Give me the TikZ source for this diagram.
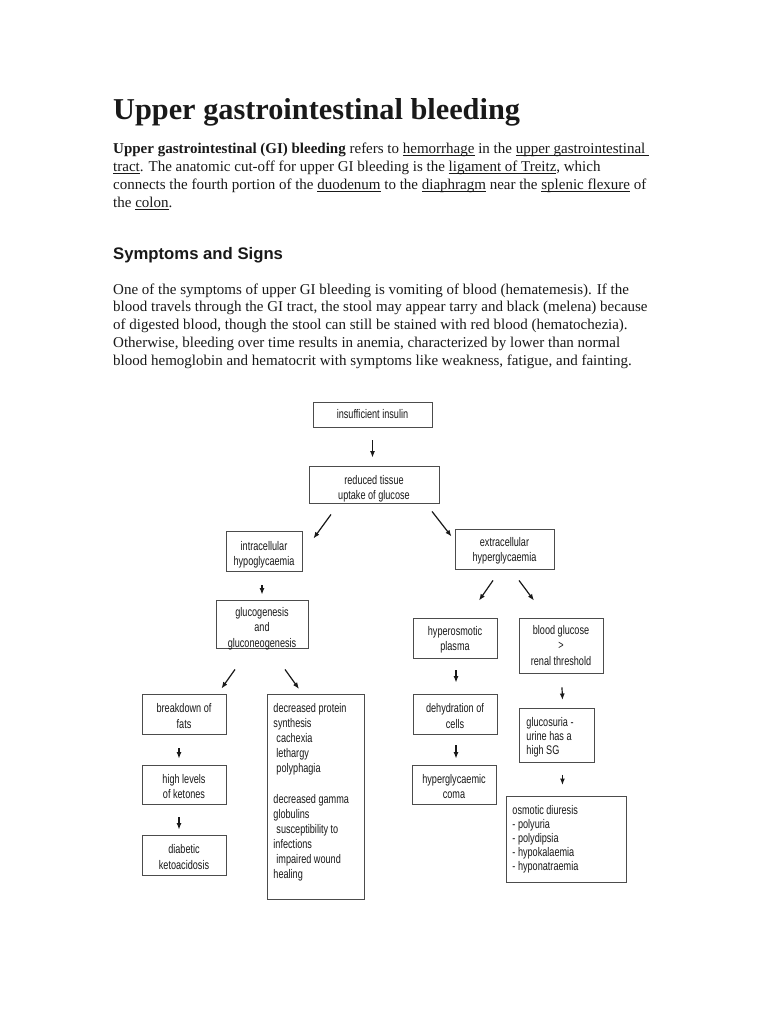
\documentclass[tikz,border=0pt]{standalone}
\usepackage{fontspec}
\setmainfont{Liberation Serif}
\setsansfont{Liberation Sans}
\newfontfamily\dfont{Liberation Sans}[FakeStretch=0.73]
\usetikzlibrary{calc,arrows.meta}
\newcommand\ulink[1]{\underline{\smash{#1}}}
\begin{document}
\begin{tikzpicture}[x=1pt,y=-1pt,
  txt/.style={anchor=base west, inner sep=0, font=\fontsize{15}{18}\selectfont, text=black!90},
  box/.style={draw=black!70, line width=0.9pt, inner sep=0, align=center,
    font=\dfont\fontsize{12.5}{15.5}\selectfont, text=black!90},
  two/.style={text height=28.5},
  lbox/.style={draw=black!70, line width=0.9pt, inner sep=0, anchor=north west,
    font=\dfont\fontsize{12.5}{14.2}\selectfont, text=black!90},
  arr/.style={draw=black!90, line width=1.2pt, -{Latex[length=6.5pt,width=5pt]}}]
\useasboundingbox[fill=white] (0,0) rectangle (768,1024);

% ---- text ----
\node[txt, font=\fontsize{30.3}{36}\selectfont\bfseries] (title) at (113,120) {Upper gastrointestinal bleeding};
\node[txt] (l1) at (113,154) {\textbf{Upper gastrointestinal (GI) bleeding} refers to \ulink{hemorrhage} in the \ulink{upper gastrointestinal\ }};
\node[txt] (l2) at (113,172) {\ulink{tract}. The anatomic cut-off for upper GI bleeding is the \ulink{ligament of Treitz}, which};
\node[txt] (l3) at (113,190) {connects the fourth portion of the \ulink{duodenum} to the \ulink{diaphragm} near the \ulink{splenic flexure} of};
\node[txt] (l4) at (113,208) {the \ulink{colon}.};
\node[txt, font=\sffamily\bfseries\fontsize{16.7}{20}\selectfont] (head) at (113,259) {Symptoms and Signs};
\node[txt] (p1) at (113,294) {One of the symptoms of upper GI bleeding is vomiting of blood (hematemesis). If the};
\node[txt] (p2) at (113,311.8) {blood travels through the GI tract, the stool may appear tarry and black (melena) because};
\node[txt] (p3) at (113,329.6) {of digested blood, though the stool can still be stained with red blood (hematochezia).};
\node[txt] (p4) at (113,347.4) {Otherwise, bleeding over time results in anemia, characterized by lower than normal};
\node[txt] (p5) at (113,365.2) {blood hemoglobin and hematocrit with symptoms like weakness, fatigue, and fainting.};

% ---- diagram boxes ----
\node[box, minimum width=119, minimum height=25] (insulin) at (372.5,414.5) {insufficient insulin};
\node[box, text height=33, minimum width=130, minimum height=37] (reduced) at (374,484.5) {reduced tissue\\uptake of glucose};
\node[box, text height=32, minimum width=76, minimum height=40] (intra) at (264,551) {intracellular\\hypoglycaemia};
\node[box, text height=46, text depth=0, minimum width=92, minimum height=48] (gluco) at (262,624) {glucogenesis\\and\\gluconeogenesis};
\node[box, two, minimum width=99, minimum height=40] (extra) at (504.5,549) {extracellular\\hyperglycaemia};
\node[box, two, minimum width=84, minimum height=40] (hyperosm) at (455,638) {hyperosmotic\\plasma};
\node[box, minimum width=84, minimum height=55] (bloodg) at (561,645.5) {blood glucose\\>\\renal threshold};
\node[box, two, minimum width=84, minimum height=40] (dehyd) at (455,714) {dehydration of\\cells};
\node[box, two, minimum width=84, minimum height=39] (coma) at (454,784.5) {hyperglycaemic\\coma};
\node[box, two, minimum width=84, minimum height=40] (breakdown) at (184,714) {breakdown of\\fats};
\node[box, two, minimum width=84, minimum height=39] (ketones) at (184,784.5) {high levels\\of ketones};
\node[box, two, minimum width=84, minimum height=40] (diabetic) at (184,855) {diabetic\\ketoacidosis};

\node[lbox] (glucosuria) at (519,708) {\parbox[c][54pt][t]{75pt}{\raggedright\leftskip=7pt\vspace*{9pt}%
glucosuria -\\urine has a\\high SG}};
\node[lbox, font=\dfont\fontsize{12.5}{14}\selectfont] (osmotic) at (506,796) {\parbox[c][86pt][t]{120pt}{\raggedright\leftskip=6pt\vspace*{9pt}%
osmotic diuresis\\- polyuria\\- polydipsia\\- hypokalaemia\\- hyponatraemia}};
\node[lbox, font=\dfont\fontsize{12.5}{15.1}\selectfont] (protein) at (267,694) {\parbox[c][205pt][t]{97pt}{\raggedright\leftskip=6pt\vspace*{9pt}%
decreased protein\\synthesis\\\hspace*{3pt}cachexia\\\hspace*{3pt}lethargy\\\hspace*{3pt}polyphagia\\\mbox{}\\decreased gamma\\globulins\\\hspace*{3pt}susceptibility to\\infections\\\hspace*{3pt}impaired wound\\healing}};

% ---- arrows ----
\draw[arr] ($(insulin.south)+(0,13)$) -- ($(reduced.north)+(-1.5,-8)$);
\draw[arr] ($(reduced.south)+(-43,11)$) -- ($(intra.north east)+(11,8)$);
\draw[arr] ($(reduced.south)+(58,8)$) -- ($(extra.north west)+(-3,8)$);
\draw[arr] ($(intra.south)+(-2,14)$) -- ($(gluco.north)+(0,-5)$);
\draw[arr] ($(gluco.south)+(-27,21)$) -- ($(breakdown.north east)+(-5,-5)$);
\draw[arr] ($(gluco.south)+(23,21)$) -- ($(protein.north west)+(32,-5)$);
\draw[arr] ($(extra.south)+(-11.5,11)$) -- ($(hyperosm.north)+(24,-17)$);
\draw[arr] ($(extra.south)+(14.5,11)$) -- ($(bloodg.north)+(-27,-17)$);
\draw[arr] ($(hyperosm.south)+(1,12)$) -- ($(dehyd.north)+(1,-11)$);
\draw[arr] ($(bloodg.south)+(1,14)$) -- ($(glucosuria.north)+(5.5,-8)$);
\draw[arr] ($(dehyd.south)+(1,11)$) -- ($(coma.north)+(2,-6)$);
\draw[arr] ($(glucosuria.south)+(5.5,12)$) -- ($(osmotic.north)+(-4,-11)$);
\draw[arr] ($(breakdown.south)+(-5,14)$) -- ($(ketones.north)+(-5,-6)$);
\draw[arr] ($(ketones.south)+(-5,13)$) -- ($(diabetic.north)+(-5,-5)$);
\end{tikzpicture}
\end{document}
